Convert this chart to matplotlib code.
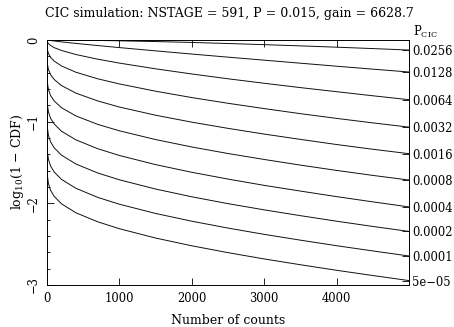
import matplotlib
matplotlib.use('Agg')
from matplotlib import pyplot as plt
from matplotlib.ticker import MultipleLocator

plt.rcParams['font.family'] = 'DejaVu Serif'
plt.rcParams['mathtext.fontset'] = 'dejavuserif'

counts = [0, 1, 5, 20, 50, 100, 200, 400, 700, 1000, 1500, 2000, 2500, 3000, 3500, 4000, 4500, 4999]

p_labels = ['0.0256', '0.0128', '0.0064', '0.0032', '0.0016',
            '0.0008', '0.0004', '0.0002', '0.0001', '5e\u221205']

c_0256 = [0, 0, 0, 0, 0, -0.0002, -0.0007, -0.002, -0.005, -0.010, -0.019, -0.030,
          -0.043, -0.057, -0.072, -0.088, -0.105, -0.123]
c_0128 = [0, 0, -0.001, -0.003, -0.006, -0.012, -0.023, -0.042, -0.068, -0.093, -0.133,
          -0.172, -0.210, -0.247, -0.284, -0.321, -0.357, -0.392]
c_0064 = [0, -0.013, -0.024, -0.045, -0.067, -0.094, -0.128, -0.178, -0.235, -0.283,
          -0.353, -0.416, -0.475, -0.530, -0.583, -0.633, -0.683, -0.731]
c_0032 = [0, -0.082, -0.117, -0.167, -0.212, -0.259, -0.318, -0.395, -0.475, -0.538,
          -0.627, -0.705, -0.775, -0.840, -0.902, -0.960, -1.015, -1.067]
c_0016 = [0, -0.232, -0.291, -0.362, -0.426, -0.484, -0.558, -0.651, -0.746, -0.821,
          -0.921, -1.006, -1.082, -1.152, -1.217, -1.280, -1.338, -1.392]
c_0008 = [0, -0.449, -0.523, -0.606, -0.681, -0.747, -0.829, -0.930, -1.033, -1.112,
          -1.219, -1.310, -1.390, -1.463, -1.532, -1.597, -1.658, -1.715]
c_0004 = [0, -0.714, -0.789, -0.882, -0.960, -1.029, -1.117, -1.223, -1.331, -1.414,
          -1.526, -1.620, -1.703, -1.780, -1.850, -1.918, -1.982, -2.044]
c_0002 = [0, -0.992, -1.071, -1.169, -1.249, -1.321, -1.410, -1.519, -1.628, -1.712,
          -1.825, -1.920, -2.004, -2.080, -2.151, -2.219, -2.283, -2.344]
c_0001 = [0, -1.282, -1.363, -1.462, -1.544, -1.617, -1.707, -1.816, -1.927, -2.011,
          -2.124, -2.219, -2.303, -2.380, -2.451, -2.519, -2.583, -2.645]
c_00005 = [0, -1.577, -1.658, -1.759, -1.842, -1.915, -2.006, -2.116, -2.226, -2.311,
           -2.425, -2.520, -2.604, -2.681, -2.752, -2.820, -2.884, -2.946]

curves = [c_0256, c_0128, c_0064, c_0032, c_0016, c_0008, c_0004, c_0002, c_0001, c_00005]

W, H = 454, 327
fig = plt.figure(figsize=(W / 100, H / 100), dpi=100)
ax = fig.add_axes([47 / W, 42 / H, 362 / W, 245 / H])

for c in curves:
    ax.plot(counts, c, color='#111111', lw=0.7)

ax.set_xlim(0, 4999)
ax.set_ylim(-3, 0)
ax.xaxis.set_major_locator(MultipleLocator(1000))
ax.xaxis.set_minor_locator(MultipleLocator(200))
ax.yaxis.set_major_locator(MultipleLocator(1))
ax.yaxis.set_minor_locator(MultipleLocator(0.2))
ax.tick_params(which='both', direction='in', top=True, right=True, labelsize=8.3, width=0.6)
ax.tick_params(which='major', length=5)
ax.tick_params(which='minor', length=2.5)
ax.tick_params(axis='x', pad=5)
ax.tick_params(axis='y', pad=5)
for lab in ax.get_yticklabels():
    lab.set_rotation(90)
    lab.set_va('center')
for s in ax.spines.values():
    s.set_linewidth(0.7)

# curve labels on the right, at the end of each curve
ax2 = ax.twinx()
ax2.set_ylim(-3, 0)
ax2.set_yticks([c[-1] for c in curves], labels=p_labels)
ax2.tick_params(direction='in', length=5, width=0.6, labelsize=8.3, pad=2)
ax2.minorticks_off()
for s in ax2.spines.values():
    s.set_visible(False)

fig.text(413 / W, 1 - 32 / H, r'P$_{\rm CIC}$', ha='left', va='center', fontsize=8.3)
fig.text(229 / W, 1 - 14 / H, 'CIC simulation: NSTAGE = 591, P = 0.015, gain = 6628.7',
         ha='center', va='center', fontsize=9)
fig.text(228 / W, 1 - 320 / H, 'Number of counts', ha='center', va='center', fontsize=9)
fig.text(18 / W, 1 - 162 / H, r'log$_{10}$(1 $-$ CDF)', rotation=90,
         ha='center', va='center', fontsize=9)

fig.savefig('out.png', dpi=100)
